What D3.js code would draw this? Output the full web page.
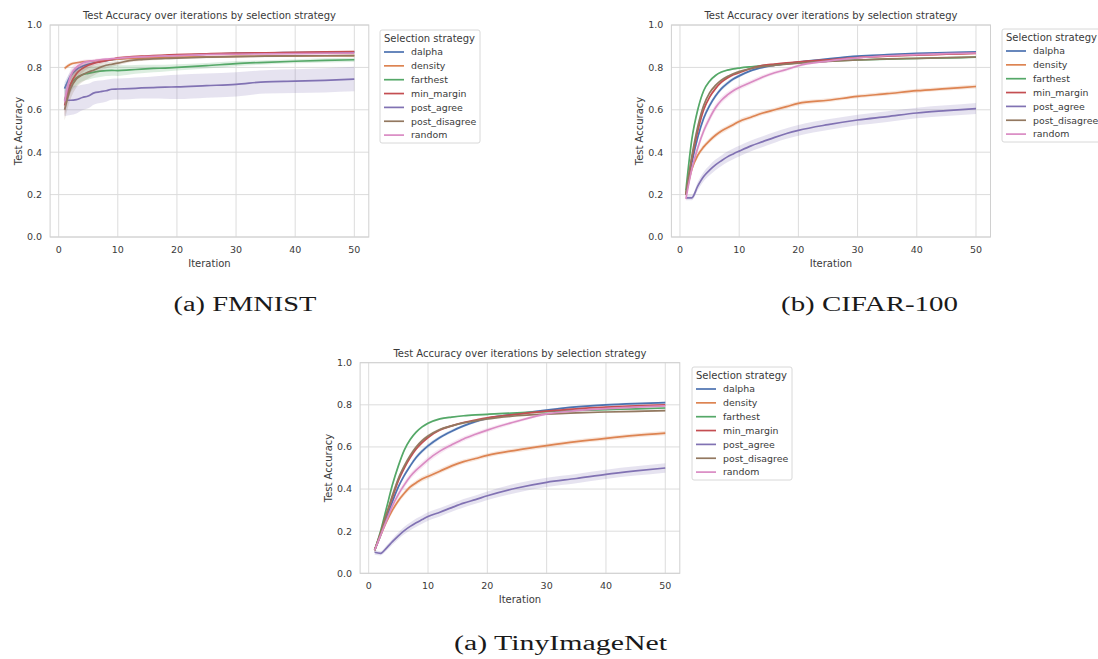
<!DOCTYPE html>
<html>
<head>
<meta charset="utf-8">
<script src="https://cdn.jsdelivr.net/npm/d3@7"></script>
<style>
  body { margin: 0; background: #fff; }
  svg { display: block; }
</style>
</head>
<body>
<div id="chart"></div>
<script>
var iters = [1, 2, 3, 4, 5, 6, 7, 8, 9, 10, 12, 14, 16, 18, 20, 25, 30, 35, 40, 45, 50];
var strategies = ["dalpha", "density", "farthest", "min_margin", "post_agree", "post_disagree", "random"];
var colors = ["#4C72B0", "#DD8452", "#55A868", "#C44E52", "#8172B3", "#937860", "#DA8BC3"];
var xTicks = [0, 10, 20, 30, 40, 50];
var yTicks = [0, 0.2, 0.4, 0.6, 0.8, 1.0];

// FMNIST means
var fmnistDalpha = [0.70, 0.76, 0.79, 0.805, 0.815, 0.822, 0.828, 0.832, 0.836, 0.84, 0.845, 0.849, 0.852, 0.855, 0.857, 0.862, 0.866, 0.868, 0.870, 0.871, 0.872];
var fmnistDensity = [0.795, 0.815, 0.822, 0.826, 0.829, 0.831, 0.833, 0.835, 0.837, 0.839, 0.842, 0.844, 0.845, 0.847, 0.848, 0.850, 0.852, 0.853, 0.854, 0.855, 0.856];
var fmnistFarthest = [0.645, 0.72, 0.75, 0.765, 0.772, 0.778, 0.782, 0.785, 0.786, 0.785, 0.788, 0.792, 0.795, 0.797, 0.80, 0.808, 0.818, 0.824, 0.829, 0.833, 0.836];
var fmnistMinMargin = [0.62, 0.72, 0.77, 0.795, 0.81, 0.82, 0.826, 0.832, 0.838, 0.845, 0.85, 0.853, 0.856, 0.858, 0.86, 0.864, 0.867, 0.869, 0.871, 0.873, 0.875];
var fmnistPostAgree = [0.645, 0.645, 0.648, 0.658, 0.665, 0.68, 0.685, 0.69, 0.697, 0.698, 0.70, 0.703, 0.705, 0.707, 0.708, 0.714, 0.72, 0.732, 0.735, 0.739, 0.745];
var fmnistPostDisagree = [0.60, 0.70, 0.745, 0.765, 0.778, 0.788, 0.80, 0.81, 0.815, 0.82, 0.832, 0.837, 0.84, 0.842, 0.844, 0.848, 0.851, 0.853, 0.854, 0.855, 0.856];
var fmnistRandom = [0.64, 0.76, 0.80, 0.82, 0.828, 0.832, 0.836, 0.839, 0.841, 0.843, 0.847, 0.85, 0.852, 0.854, 0.856, 0.86, 0.862, 0.864, 0.865, 0.866, 0.867];
// FMNIST confidence half-widths
var fmnistCi = [
  [0.03, 0.02, 0.015, 0.01, 0.01, 0.008, 0.006, 0.005, 0.005, 0.005, 0.004, 0.004, 0.003, 0.003, 0.003, 0.003, 0.003, 0.003, 0.003, 0.003, 0.003],
  [0.01, 0.008, 0.006, 0.005, 0.005, 0.004, 0.004, 0.004, 0.004, 0.004, 0.003, 0.003, 0.003, 0.003, 0.003, 0.003, 0.003, 0.003, 0.003, 0.003, 0.003],
  [0.05, 0.04, 0.035, 0.03, 0.03, 0.028, 0.027, 0.026, 0.025, 0.025, 0.022, 0.02, 0.018, 0.016, 0.015, 0.013, 0.012, 0.01, 0.01, 0.01, 0.01],
  [0.05, 0.04, 0.03, 0.02, 0.015, 0.012, 0.01, 0.008, 0.006, 0.005, 0.005, 0.004, 0.004, 0.004, 0.004, 0.003, 0.003, 0.003, 0.003, 0.003, 0.003],
  [0.075, 0.07, 0.065, 0.06, 0.058, 0.055, 0.053, 0.052, 0.05, 0.05, 0.05, 0.05, 0.052, 0.055, 0.057, 0.057, 0.057, 0.055, 0.056, 0.057, 0.058],
  [0.05, 0.05, 0.04, 0.035, 0.03, 0.025, 0.02, 0.015, 0.012, 0.01, 0.008, 0.007, 0.006, 0.006, 0.005, 0.005, 0.005, 0.005, 0.005, 0.005, 0.005],
  [0.05, 0.03, 0.02, 0.015, 0.01, 0.008, 0.007, 0.006, 0.005, 0.005, 0.004, 0.004, 0.004, 0.004, 0.004, 0.003, 0.003, 0.003, 0.003, 0.003, 0.003]
];

// CIFAR-100 means
var cifarDalpha = [0.20, 0.35, 0.47, 0.56, 0.62, 0.665, 0.70, 0.725, 0.745, 0.76, 0.785, 0.80, 0.81, 0.818, 0.825, 0.84, 0.853, 0.86, 0.866, 0.87, 0.873];
var cifarDensity = [0.20, 0.32, 0.385, 0.425, 0.455, 0.48, 0.50, 0.515, 0.53, 0.545, 0.565, 0.585, 0.60, 0.615, 0.63, 0.645, 0.663, 0.676, 0.69, 0.70, 0.71];
var cifarFarthest = [0.22, 0.46, 0.60, 0.69, 0.735, 0.762, 0.778, 0.787, 0.793, 0.797, 0.803, 0.808, 0.813, 0.818, 0.822, 0.83, 0.835, 0.839, 0.842, 0.845, 0.848];
var cifarMinMargin = [0.20, 0.37, 0.50, 0.60, 0.66, 0.70, 0.73, 0.75, 0.765, 0.775, 0.795, 0.81, 0.816, 0.821, 0.826, 0.836, 0.846, 0.853, 0.858, 0.862, 0.866];
var cifarPostAgree = [0.185, 0.185, 0.24, 0.285, 0.315, 0.34, 0.36, 0.378, 0.392, 0.405, 0.43, 0.45, 0.47, 0.488, 0.503, 0.53, 0.552, 0.568, 0.585, 0.596, 0.606];
var cifarPostDisagree = [0.20, 0.38, 0.52, 0.62, 0.68, 0.715, 0.74, 0.757, 0.77, 0.78, 0.795, 0.805, 0.81, 0.815, 0.82, 0.828, 0.835, 0.84, 0.843, 0.846, 0.849];
var cifarRandom = [0.18, 0.32, 0.42, 0.50, 0.56, 0.61, 0.645, 0.67, 0.69, 0.705, 0.73, 0.755, 0.775, 0.79, 0.808, 0.83, 0.845, 0.855, 0.86, 0.865, 0.868];
var cifarCi = [
  [0.01, 0.015, 0.015, 0.015, 0.012, 0.01, 0.01, 0.01, 0.008, 0.008, 0.006, 0.005, 0.004, 0.004, 0.004, 0.003, 0.003, 0.003, 0.003, 0.003, 0.003],
  [0.01, 0.012, 0.012, 0.012, 0.012, 0.012, 0.012, 0.011, 0.011, 0.011, 0.01, 0.01, 0.01, 0.01, 0.01, 0.009, 0.009, 0.009, 0.009, 0.009, 0.009],
  [0.01, 0.012, 0.01, 0.008, 0.006, 0.005, 0.004, 0.004, 0.004, 0.003, 0.003, 0.003, 0.003, 0.003, 0.003, 0.003, 0.003, 0.003, 0.003, 0.003, 0.003],
  [0.01, 0.012, 0.012, 0.01, 0.008, 0.007, 0.006, 0.005, 0.005, 0.005, 0.004, 0.004, 0.004, 0.003, 0.003, 0.003, 0.003, 0.003, 0.003, 0.003, 0.003],
  [0.012, 0.012, 0.02, 0.022, 0.024, 0.025, 0.025, 0.025, 0.025, 0.025, 0.025, 0.025, 0.025, 0.025, 0.025, 0.025, 0.025, 0.025, 0.025, 0.025, 0.026],
  [0.01, 0.012, 0.012, 0.01, 0.008, 0.007, 0.006, 0.005, 0.005, 0.005, 0.004, 0.004, 0.004, 0.003, 0.003, 0.003, 0.003, 0.003, 0.003, 0.003, 0.003],
  [0.01, 0.015, 0.018, 0.018, 0.018, 0.016, 0.015, 0.014, 0.013, 0.012, 0.011, 0.01, 0.009, 0.008, 0.007, 0.005, 0.004, 0.004, 0.004, 0.004, 0.004]
];

// TinyImageNet means
var tinyDalpha = [0.11, 0.18, 0.26, 0.34, 0.41, 0.465, 0.51, 0.55, 0.58, 0.605, 0.645, 0.675, 0.70, 0.72, 0.735, 0.757, 0.775, 0.79, 0.80, 0.806, 0.81];
var tinyDensity = [0.11, 0.18, 0.245, 0.30, 0.345, 0.38, 0.41, 0.43, 0.448, 0.46, 0.485, 0.51, 0.53, 0.545, 0.56, 0.585, 0.606, 0.625, 0.641, 0.655, 0.666];
var tinyFarthest = [0.11, 0.20, 0.31, 0.42, 0.51, 0.585, 0.635, 0.67, 0.695, 0.712, 0.733, 0.742, 0.748, 0.752, 0.755, 0.762, 0.768, 0.773, 0.777, 0.781, 0.785];
var tinyMinMargin = [0.11, 0.19, 0.28, 0.36, 0.44, 0.50, 0.55, 0.59, 0.62, 0.645, 0.68, 0.70, 0.716, 0.728, 0.738, 0.755, 0.77, 0.781, 0.789, 0.795, 0.80];
var tinyPostAgree = [0.10, 0.095, 0.12, 0.15, 0.178, 0.203, 0.223, 0.24, 0.255, 0.27, 0.29, 0.312, 0.333, 0.35, 0.368, 0.405, 0.432, 0.45, 0.47, 0.486, 0.50];
var tinyPostDisagree = [0.11, 0.19, 0.28, 0.37, 0.45, 0.51, 0.56, 0.60, 0.63, 0.652, 0.683, 0.70, 0.714, 0.724, 0.733, 0.748, 0.756, 0.762, 0.766, 0.769, 0.772];
var tinyRandom = [0.11, 0.18, 0.25, 0.32, 0.375, 0.42, 0.46, 0.49, 0.515, 0.54, 0.58, 0.61, 0.638, 0.66, 0.68, 0.722, 0.757, 0.772, 0.782, 0.789, 0.795];
var tinyCi = [
  [0.01, 0.01, 0.01, 0.01, 0.01, 0.01, 0.01, 0.01, 0.01, 0.01, 0.008, 0.008, 0.007, 0.006, 0.006, 0.005, 0.005, 0.005, 0.005, 0.005, 0.005],
  [0.01, 0.01, 0.012, 0.012, 0.012, 0.012, 0.012, 0.012, 0.012, 0.012, 0.011, 0.011, 0.01, 0.01, 0.01, 0.01, 0.01, 0.01, 0.01, 0.01, 0.01],
  [0.01, 0.01, 0.01, 0.01, 0.008, 0.007, 0.006, 0.005, 0.005, 0.005, 0.004, 0.004, 0.004, 0.004, 0.004, 0.004, 0.004, 0.004, 0.004, 0.004, 0.004],
  [0.01, 0.01, 0.01, 0.01, 0.01, 0.01, 0.009, 0.008, 0.008, 0.007, 0.006, 0.005, 0.005, 0.005, 0.005, 0.004, 0.004, 0.004, 0.004, 0.004, 0.004],
  [0.012, 0.01, 0.012, 0.014, 0.016, 0.018, 0.018, 0.02, 0.02, 0.02, 0.02, 0.02, 0.02, 0.02, 0.02, 0.022, 0.022, 0.022, 0.022, 0.022, 0.022],
  [0.01, 0.01, 0.01, 0.01, 0.01, 0.01, 0.009, 0.008, 0.008, 0.007, 0.006, 0.005, 0.005, 0.005, 0.005, 0.004, 0.004, 0.004, 0.004, 0.004, 0.004],
  [0.01, 0.01, 0.012, 0.014, 0.015, 0.015, 0.015, 0.015, 0.015, 0.014, 0.013, 0.012, 0.011, 0.01, 0.01, 0.008, 0.007, 0.006, 0.005, 0.005, 0.005]
];

var W = 1098, H = 659;
var svg = d3.select("#chart").append("svg")
    .attr("width", W)
    .attr("height", H);

var sans = "DejaVu Sans, sans-serif";
var textColor = "#3a3a3a";

function drawPanel(p) {
    var x = d3.scaleLinear().domain([-1.45, 52.45]).range([p.left, p.right]);
    var y = d3.scaleLinear().domain([0, 1]).range([p.bottom, p.top]);
    var g = svg.append("g");

    // grid
    g.selectAll(".vgrid").data(xTicks).enter().append("line")
        .attr("x1", function(d) { return x(d); }).attr("x2", function(d) { return x(d); })
        .attr("y1", p.top).attr("y2", p.bottom)
        .style("stroke", "#dcdcdc").style("stroke-width", 1);
    g.selectAll(".hgrid").data(yTicks).enter().append("line")
        .attr("x1", p.left).attr("x2", p.right)
        .attr("y1", function(d) { return y(d); }).attr("y2", function(d) { return y(d); })
        .style("stroke", "#dcdcdc").style("stroke-width", 1);

    // bands and lines
    var area = d3.area()
        .x(function(d) { return x(d.it); })
        .y0(function(d) { return y(d.v - d.c); })
        .y1(function(d) { return y(d.v + d.c); })
        .curve(d3.curveMonotoneX);
    var line = d3.line()
        .x(function(d) { return x(d.it); })
        .y(function(d) { return y(d.v); })
        .curve(d3.curveMonotoneX);

    p.series.forEach(function(vals, i) {
        var pts = iters.map(function(it, k) { return { it: it, v: vals[k], c: p.ci[i][k] }; });
        g.append("path").attr("d", area(pts))
            .style("fill", colors[i]).style("opacity", 0.2);
        g.append("path").attr("d", line(pts))
            .style("fill", "none").style("stroke", colors[i]).style("stroke-width", 1.7);
    });

    // frame
    g.append("rect")
        .attr("x", p.left).attr("y", p.top)
        .attr("width", p.right - p.left).attr("height", p.bottom - p.top)
        .style("fill", "none").style("stroke", "#d0d0d0").style("stroke-width", 1);

    // tick labels
    g.selectAll(".xt").data(xTicks).enter().append("text")
        .attr("x", function(d) { return x(d); })
        .attr("y", p.bottom + 16)
        .attr("text-anchor", "middle")
        .style("font-family", sans).style("font-size", "9.5px").style("fill", textColor)
        .text(function(d) { return d; });
    g.selectAll(".yt").data(yTicks).enter().append("text")
        .attr("x", p.left - 8)
        .attr("y", function(d) { return y(d); })
        .attr("dy", "0.35em")
        .attr("text-anchor", "end")
        .style("font-family", sans).style("font-size", "9.5px").style("fill", textColor)
        .text(function(d) { return d3.format(".1f")(d); });

    // labels and title
    g.append("text")
        .attr("x", (p.left + p.right) / 2).attr("y", p.bottom + 29.5)
        .attr("text-anchor", "middle")
        .style("font-family", sans).style("font-size", "10px").style("fill", textColor)
        .text("Iteration");
    g.append("text")
        .attr("transform", "translate(" + (p.left - 31.8) + "," + ((p.top + p.bottom) / 2) + ") rotate(-90)")
        .attr("dy", "0.35em")
        .attr("text-anchor", "middle")
        .style("font-family", sans).style("font-size", "10px").style("fill", textColor)
        .text("Test Accuracy");
    g.append("text")
        .attr("x", (p.left + p.right) / 2).attr("y", p.top - 5.7)
        .attr("text-anchor", "middle")
        .style("font-family", sans).style("font-size", "10px").style("fill", textColor)
        .text("Test Accuracy over iterations by selection strategy");

    // legend
    var lg = svg.append("g").attr("transform", "translate(" + p.legendX + "," + p.legendY + ")");
    lg.append("rect")
        .attr("width", 100).attr("height", 113).attr("rx", 2)
        .style("fill", "#fff").style("stroke", "#d8d8d8").style("stroke-width", 1);
    lg.append("text")
        .attr("x", 4).attr("y", 11.5)
        .style("font-family", sans).style("font-size", "10px").style("fill", textColor)
        .text("Selection strategy");
    var item = lg.selectAll(".item").data(strategies).enter().append("g")
        .attr("transform", function(d, i) { return "translate(0," + (22 + i * 13.85) + ")"; });
    item.append("line")
        .attr("x1", 4).attr("x2", 24)
        .style("stroke", function(d, i) { return colors[i]; }).style("stroke-width", 1.7);
    item.append("text")
        .attr("x", 31).attr("dy", "0.35em")
        .style("font-family", sans).style("font-size", "9.4px").style("fill", textColor)
        .text(function(d) { return d; });
}

drawPanel({
    left: 50.1, right: 368.8, top: 25, bottom: 237, legendX: 380, legendY: 30,
    series: [fmnistDalpha, fmnistDensity, fmnistFarthest, fmnistMinMargin, fmnistPostAgree, fmnistPostDisagree, fmnistRandom],
    ci: fmnistCi
});
drawPanel({
    left: 671.4, right: 990.5, top: 25, bottom: 237, legendX: 1002, legendY: 29,
    series: [cifarDalpha, cifarDensity, cifarFarthest, cifarMinMargin, cifarPostAgree, cifarPostDisagree, cifarRandom],
    ci: cifarCi
});
drawPanel({
    left: 360.1, right: 679.8, top: 362.7, bottom: 573.3, legendX: 692, legendY: 367,
    series: [tinyDalpha, tinyDensity, tinyFarthest, tinyMinMargin, tinyPostAgree, tinyPostDisagree, tinyRandom],
    ci: tinyCi
});

// sub-figure captions
var captions = [
    { text: "(a) FMNIST", x: 245, y: 310.5, len: 143 },
    { text: "(b) CIFAR-100", x: 869.5, y: 310.5, len: 177 },
    { text: "(a) TinyImageNet", x: 560.5, y: 649.5, len: 213 }
];
svg.selectAll(".caption").data(captions).enter().append("text")
    .attr("x", function(d) { return d.x - d.len / 2; })
    .attr("y", function(d) { return d.y; })
    .attr("textLength", function(d) { return d.len; })
    .attr("lengthAdjust", "spacingAndGlyphs")
    .style("font-family", "Liberation Serif, serif")
    .style("font-size", "20.5px")
    .style("fill", "#1a1a1a")
    .text(function(d) { return d.text; });
</script>
</body>
</html>
